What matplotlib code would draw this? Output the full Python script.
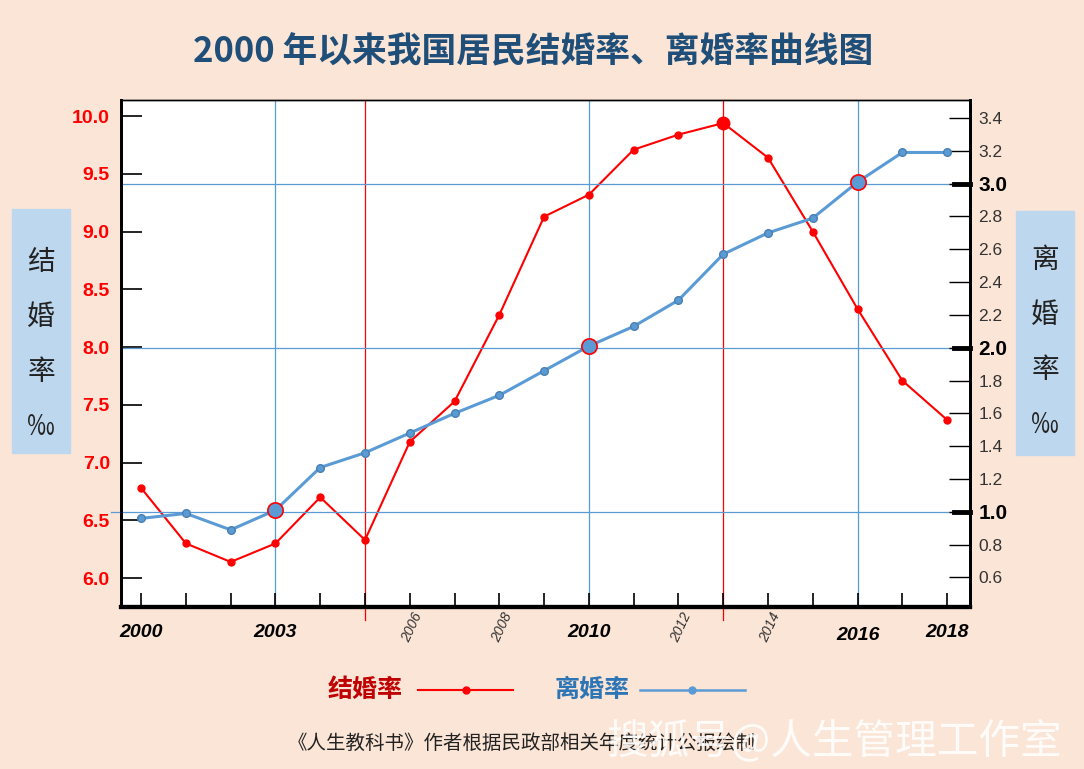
import matplotlib.pyplot as plt

# 数据
years = list(range(2000, 2019))
marriage = [6.78, 6.30, 6.14, 6.30, 6.70, 6.33, 7.18, 7.53, 8.28, 9.13,
            9.32, 9.71, 9.84, 9.94, 9.64, 9.00, 8.33, 7.71, 7.37]
divorce = [0.96, 0.99, 0.89, 1.01, 1.27, 1.36, 1.48, 1.60, 1.71, 1.86,
           2.01, 2.13, 2.29, 2.57, 2.70, 2.79, 3.01, 3.19, 3.19]
big_labels = {2000: "2000", 2003: "2003", 2010: "2010", 2016: "2016", 2018: "2018"}
small_labels = {2006: "2006", 2008: "2008", 2012: "2012", 2014: "2014"}
blue_years = [2003, 2010, 2016]
red_years = [2005, 2013]

plt.rcParams['font.family'] = ['Liberation Sans', 'Noto Sans CJK SC', 'DejaVu Sans']
cjk = ['Noto Sans CJK SC', 'DejaVu Sans']

bg = "#FBE5D6"
red = "#FF0000"
blue = "#5B9BD5"

fig = plt.figure(figsize=(10.84, 7.69), dpi=100, facecolor=bg)
ax = fig.add_axes([0.1116, 0.2107, 0.7832, 0.6593])
ax2 = ax.twinx()

ax.set_xlim(1999.55, 2018.51)
ax.set_ylim(5.75, 10.14)
ax2.set_ylim(0.42, 3.51)

# 参考线
for y in blue_years:
    ax.axvline(y, color=blue, lw=0.9, zorder=1)
for y in red_years:
    ax.plot([y, y], [5.64, 10.14], color=red, lw=0.9, zorder=1, clip_on=False)
for v in [2.0, 3.0]:
    ax2.axhline(v, color=blue, lw=0.9, zorder=1)
ax2.plot([1999.32, 2018.51], [1.0, 1.0], color=blue, lw=0.9, zorder=1, clip_on=False)

# 曲线
ax.plot(years, marriage, color=red, lw=1.5, marker="o", ms=5, zorder=3)
ax2.plot(years, divorce, color=blue, lw=2.2, marker="o", ms=5.5,
         markeredgecolor="#4a7fb0", zorder=4)

# 突出点
for y in blue_years:
    i = years.index(y)
    ax2.plot(y, divorce[i], marker="o", ms=11, color=blue, markeredgecolor=red,
             markeredgewidth=1.2, zorder=5)
i = years.index(2013)
ax.plot(2013, marriage[i], marker="o", ms=9, color=red, zorder=5)

# 坐标轴样式
for s in ["left", "right"]:
    ax.spines[s].set_linewidth(2)
    ax2.spines[s].set_linewidth(2)
ax.spines["bottom"].set_linewidth(3)
ax2.spines["bottom"].set_linewidth(3)
ax.spines["top"].set_linewidth(1)
ax2.spines["top"].set_linewidth(1)
ax.set_facecolor("white")

ax.set_yticks([6.0, 6.5, 7.0, 7.5, 8.0, 8.5, 9.0, 9.5, 10.0])
ax.set_yticklabels(["6.0", "6.5", "7.0", "7.5", "8.0", "8.5", "9.0", "9.5", "10.0"])
ax.tick_params(axis="y", direction="in", length=15, width=1.2, pad=8,
               labelcolor=red, labelsize=14)
for t in ax.get_yticklabels():
    t.set_fontweight("bold")

rt = [0.6, 0.8, 1.0, 1.2, 1.4, 1.6, 1.8, 2.0, 2.2, 2.4, 2.6, 2.8, 3.0, 3.2, 3.4]
ax2.set_yticks(rt)
ax2.set_yticklabels([f"{v:.1f}" for v in rt])
ax2.tick_params(axis="y", direction="in", length=15, width=1.0, pad=6,
                labelcolor="#333333", labelsize=12.5)
for t, v in zip(ax2.get_yticklabels(), rt):
    if abs(v - round(v)) < 1e-6:
        t.set_fontweight("bold")
        t.set_fontsize(15)
        t.set_color("black")
for v in [1.0, 2.0, 3.0]:
    ax2.plot([2018.15, 2018.51], [v, v], color="black", lw=3.5, zorder=6, clip_on=False)

ax.set_xticks(years)
ax.set_xticklabels([""] * len(years))
ax.tick_params(axis="x", direction="in", length=10, width=1.2)
for y, s in big_labels.items():
    ax.text(y, 5.53 if y != 2016 else 5.50, s, ha="center", va="center",
            fontsize=14, fontweight="bold", fontstyle="italic")
for y, s in small_labels.items():
    ax.text(y + 0.05, 5.57, s, ha="center", va="center", fontsize=10,
            fontstyle="italic", rotation=65, color="#333333")

# 标题
fig.text(0.492, 0.932, "2000 年以来我国居民结婚率、离婚率曲线图", ha="center", va="center",
         fontsize=25, fontweight="bold", color="#1F4E79", family=cjk)

# 两侧标签框
fig.patches.append(plt.Rectangle((12 / 1084, 1 - 453 / 769), 58 / 1084, 244 / 769,
                                 transform=fig.transFigure, color="#BDD7EE", zorder=0))
fig.patches.append(plt.Rectangle((1016 / 1084, 1 - 455 / 769), 58 / 1084, 244 / 769,
                                 transform=fig.transFigure, color="#BDD7EE", zorder=0))
for x, ch in [(41, "结"), (1045, "离")]:
    for k, c in enumerate([ch, "婚", "率", "‰"]):
        fig.text(x / 1084, 1 - (262 + k * 55) / 769 + (0.0026 if x > 500 else 0), c,
                 ha="center", va="center", fontsize=20, color="#222222", family=cjk)

# 图例
fig.text(365 / 1084, 1 - 690 / 769, "结婚率", ha="center", va="center", fontsize=18,
         fontweight="bold", color="#C00000", family=cjk)
fig.add_artist(plt.Line2D([418 / 1084, 513 / 1084], [1 - 690 / 769] * 2, color=red, lw=1.5))
fig.add_artist(plt.Line2D([466 / 1084], [1 - 690 / 769], color=red, marker="o", ms=5))
fig.text(592 / 1084, 1 - 690 / 769, "离婚率", ha="center", va="center", fontsize=18,
         fontweight="bold", color="#2E75B6", family=cjk)
fig.add_artist(plt.Line2D([640 / 1084, 745 / 1084], [1 - 690 / 769] * 2, color=blue, lw=1.8))
fig.add_artist(plt.Line2D([692 / 1084], [1 - 690 / 769], color=blue, marker="o", ms=5))

# 来源与水印
fig.text(288 / 1084, 1 - 743 / 769, "《人生教科书》作者根据民政部相关年度统计公报绘制",
         ha="left", va="center", fontsize=14, color="#222222", family=cjk)
fig.text(834 / 1084, 1 - 741 / 769, "搜狐号@人生管理工作室", ha="center", va="center",
         fontsize=30, color="white", alpha=0.85, family=cjk)

plt.savefig("out.png", dpi=100, facecolor=bg)
